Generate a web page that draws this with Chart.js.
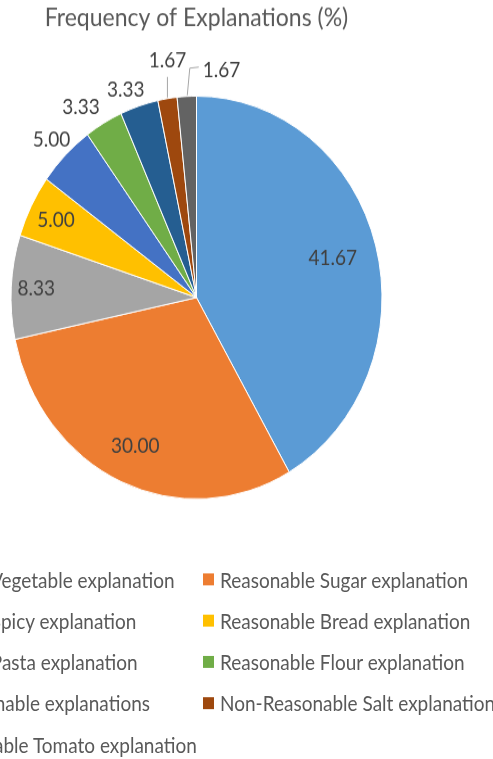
<!DOCTYPE html>
<html lang="en">
<head>
<meta charset="UTF-8">
<title>Frequency of Explanations</title>
<script src="https://cdn.jsdelivr.net/npm/chart.js"></script>
<style>
  html, body { margin: 0; padding: 0; background: #fff; overflow: hidden; }
  body { width: 493px; height: 759px; position: relative; font-family: Lato, "Open Sans", sans-serif; }
  /* whole chart is drawn a bit taller than wide */
  #stage { position: absolute; left: 0; top: 0; width: 493px; height: 699px; transform: scaleY(1.086); transform-origin: 0 0; }
  #chartBox { position: absolute; left: -100px; top: 0; width: 593px; height: 490px; }
  #legend { position: absolute; left: -126px; top: 514px; display: grid; grid-template-columns: 329px 329px; }
  .item { height: 38px; display: flex; align-items: center; white-space: nowrap; color: #595959; font-size: 19px; }
  .swatch { width: 11px; height: 11px; margin-right: 6px; flex: none; }
</style>
</head>
<body>
<div id="stage">
  <div id="chartBox"><canvas id="pieChart"></canvas></div>
  <div id="legend"></div>
</div>

<script>
  const labels = [
    "Reasonable Vegetable explanation",
    "Reasonable Sugar explanation",
    "Reasonable Spicy explanation",
    "Reasonable Bread explanation",
    "Reasonable Pasta explanation",
    "Reasonable Flour explanation",
    "Other Reasonable explanations",
    "Non-Reasonable Salt explanation",
    "Non-Reasonable Tomato explanation"
  ];
  const shares = [41.67, 30.00, 8.33, 5.00, 5.00, 3.33, 3.33, 1.67, 1.67];
  const colors = ["#5B9BD5", "#ED7D31", "#A5A5A5", "#FFC000", "#4472C4", "#70AD47", "#255E91", "#9E480E", "#636363"];

  // value label placement per slice: radius factor and a small turn (degrees) off the mid angle,
  // the two thinnest slices get leader lines instead
  const labelSpots = [
    { k: 0.76 }, { k: 0.81 }, { k: 0.865 }, { k: 0.85 },
    { k: 1.105 }, { k: 1.13, turn: -3.4 }, { k: 1.10, turn: -2.3 },
    { leader: "up" }, { leader: "side" }
  ];

  const sliceLabels = {
    id: "sliceLabels",
    afterDatasetsDraw(chart) {
      const ctx = chart.ctx;
      const meta = chart.getDatasetMeta(0);
      ctx.save();
      ctx.font = "19px Lato";
      ctx.fillStyle = "#404040";
      ctx.strokeStyle = "#A6A6A6";
      ctx.lineWidth = 1;
      ctx.textBaseline = "middle";
      meta.data.forEach((arc, i) => {
        const p = arc.getProps(["x", "y", "startAngle", "endAngle", "outerRadius"], true);
        const spot = labelSpots[i];
        const mid = (p.startAngle + p.endAngle) / 2 + (spot.turn || 0) * Math.PI / 180;
        const cos = Math.cos(mid), sin = Math.sin(mid);
        const r = p.outerRadius;
        const text = shares[i].toFixed(2);
        if (!spot.leader) {
          ctx.textAlign = "center";
          ctx.fillText(text, p.x + cos * r * spot.k, p.y + sin * r * spot.k);
          return;
        }
        const ax = p.x + cos * r, ay = p.y + sin * r;
        ctx.beginPath();
        if (spot.leader === "up") {
          ctx.moveTo(ax, ay - 1);
          ctx.lineTo(ax, ay - 20);
          ctx.stroke();
          ctx.textAlign = "center";
          ctx.fillText(text, ax, ay - 35);
        } else {
          ctx.moveTo(ax + 0.5, ay - 1);
          ctx.lineTo(ax + 3, ay - 26);
          ctx.lineTo(ax + 12, ay - 27);
          ctx.stroke();
          ctx.textAlign = "left";
          ctx.fillText(text, ax + 16, ay - 24);
        }
      });
      ctx.restore();
    }
  };

  new Chart(document.getElementById("pieChart"), {
    type: "pie",
    data: {
      labels: labels,
      datasets: [{
        data: shares,
        backgroundColor: colors,
        borderColor: "#ffffff",
        borderWidth: 1
      }]
    },
    options: {
      responsive: true,
      maintainAspectRatio: false,
      animation: false,
      layout: { padding: { top: 0, bottom: 30 } },
      plugins: {
        legend: { display: false },
        tooltip: { enabled: false },
        title: {
          display: true,
          text: "Frequency of Explanations (%)",
          color: "#595959",
          font: { family: "Lato", size: 23, weight: "normal" },
          padding: { top: 3, bottom: 57.4 }
        }
      }
    },
    plugins: [sliceLabels]
  });

  // legend laid out in two columns, row by row
  const legend = document.getElementById("legend");
  labels.forEach((name, i) => {
    const item = document.createElement("div");
    item.className = "item";
    const sw = document.createElement("span");
    sw.className = "swatch";
    sw.style.background = colors[i];
    item.appendChild(sw);
    item.appendChild(document.createTextNode(name));
    legend.appendChild(item);
  });
</script>
</body>
</html>
